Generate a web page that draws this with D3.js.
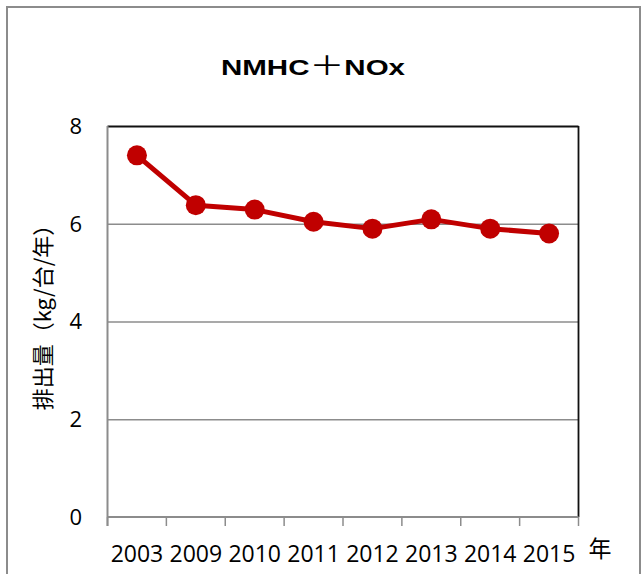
<!DOCTYPE html>
<html>
<head>
<meta charset="utf-8">
<script src="https://cdn.jsdelivr.net/npm/d3@7"></script>
<style>
  html, body { margin: 0; padding: 0; background: #fff; }
  svg { display: block; }
</style>
</head>
<body>
<svg id="chart" width="642" height="574"></svg>
<script>
// ---- data ----
const categories = ["2003", "2009", "2010", "2011", "2012", "2013", "2014", "2015"];
const values = [7.4, 6.38, 6.29, 6.04, 5.9, 6.09, 5.9, 5.8];
const yTicks = [0, 2, 4, 6, 8];
const titleParts = ["NMHC", "＋", "NOx"];
const yTitle = "排出量（kg/台/年）";
const xUnit = "年";

const svg = d3.select("#chart");
const plot = { left: 107.5, right: 578.5, top: 126, bottom: 517 };
const red = "#C00000";
const gray = "#8c8c8c";
const numFont = "'Open Sans', 'Liberation Sans', sans-serif";
const cjkFont = "'Noto Sans CJK JP', sans-serif";

// outer frame
svg.append("rect")
  .attr("x", 7).attr("y", 7)
  .attr("width", 633).attr("height", 600)
  .attr("fill", "#fff")
  .attr("stroke", gray).attr("stroke-width", 2);

const x = d3.scaleBand().domain(categories).range([plot.left, plot.right]).padding(0);
const y = d3.scaleLinear().domain([0, 8]).range([plot.bottom, plot.top]);

// gridlines
const yAxis = d3.axisLeft(y).tickValues(yTicks).tickSize(-(plot.right - plot.left)).tickFormat("").tickSizeOuter(0);
const gGrid = svg.append("g").attr("transform", `translate(${plot.left},0)`).call(yAxis);
gGrid.select(".domain").remove();
gGrid.selectAll(".tick line")
  .attr("stroke", d => d === 8 ? "#111" : gray)
  .attr("stroke-width", d => d === 8 ? 1.8 : 1.5);
gGrid.selectAll(".tick").filter(d => d === 0).remove();

// right border (black)
svg.append("line")
  .attr("x1", plot.right).attr("x2", plot.right)
  .attr("y1", plot.top).attr("y2", plot.bottom)
  .attr("stroke", "#111").attr("stroke-width", 1.8);

// y tick labels
svg.append("g").selectAll("text").data(yTicks).join("text")
  .attr("x", 82).attr("y", d => y(d))
  .attr("dy", "0.36em")
  .attr("text-anchor", "end")
  .attr("font-family", numFont).attr("font-size", 22)
  .attr("fill", "#000")
  .text(d => d);

// left axis line
svg.append("line")
  .attr("x1", plot.left).attr("x2", plot.left)
  .attr("y1", plot.top).attr("y2", plot.bottom + 9)
  .attr("stroke", gray).attr("stroke-width", 2);

// x axis with boundary ticks
const boundaries = categories.map(c => x(c)).concat([plot.right]);
svg.append("line")
  .attr("x1", plot.left).attr("x2", plot.right)
  .attr("y1", plot.bottom).attr("y2", plot.bottom)
  .attr("stroke", gray).attr("stroke-width", 2);
svg.append("g").selectAll("line").data(boundaries).join("line")
  .attr("x1", d => d).attr("x2", d => d)
  .attr("y1", plot.bottom).attr("y2", plot.bottom + 9)
  .attr("stroke", gray).attr("stroke-width", 1.5);

// x labels
svg.append("g").selectAll("text").data(categories).join("text")
  .attr("x", d => x(d) + x.bandwidth() / 2)
  .attr("y", 562)
  .attr("text-anchor", "middle")
  .attr("font-family", numFont).attr("font-size", 23)
  .attr("fill", "#000")
  .text(d => d);

// unit label
svg.append("text")
  .attr("x", 600).attr("y", 557)
  .attr("text-anchor", "middle")
  .attr("font-family", cjkFont).attr("font-size", 23)
  .attr("fill", "#000")
  .text(xUnit);

// line
const line = d3.line()
  .x((d, i) => x(categories[i]) + x.bandwidth() / 2)
  .y(d => y(d));
svg.append("path")
  .datum(values)
  .attr("d", line)
  .attr("fill", "none")
  .attr("stroke", red)
  .attr("stroke-width", 5)
  .attr("stroke-linejoin", "round");

svg.append("g").selectAll("circle").data(values).join("circle")
  .attr("cx", (d, i) => x(categories[i]) + x.bandwidth() / 2)
  .attr("cy", d => y(d))
  .attr("r", 10)
  .attr("fill", red);

// title
const t = svg.append("text")
  .attr("x", 313).attr("y", 75)
  .attr("text-anchor", "middle")
  .attr("font-family", "'Liberation Sans', Arial, sans-serif")
  .attr("font-weight", "bold")
  .attr("font-size", 22)
  .attr("fill", "#000")
  .attr("textLength", 184)
  .attr("lengthAdjust", "spacingAndGlyphs");
t.selectAll("tspan").data(titleParts).join("tspan")
  .attr("font-family", (d, i) => i === 1 ? cjkFont : null)
  .attr("font-weight", (d, i) => i === 1 ? "normal" : null)
  .attr("font-size", (d, i) => i === 1 ? 26 : null)
  .text(d => d);

// y title
svg.append("text")
  .attr("transform", `translate(51,312) rotate(-90)`)
  .attr("text-anchor", "middle")
  .attr("font-family", cjkFont)
  .attr("font-size", 22)
  .attr("fill", "#000")
  .text(yTitle);
</script>
</body>
</html>
